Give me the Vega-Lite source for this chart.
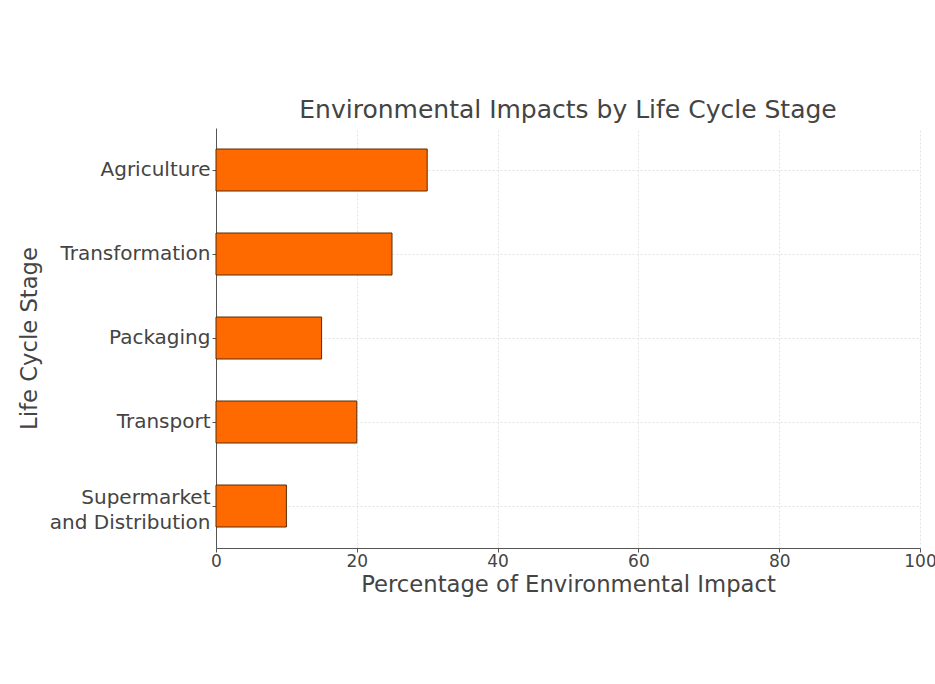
{
  "$schema": "https://vega.github.io/schema/vega-lite/v6.json",
  "autosize": "none",
  "width": 704,
  "height": 420,
  "padding": {"left": 216, "top": 128, "right": 15, "bottom": 136},
  "background": "white",
  "title": {
    "text": "Environmental Impacts by Life Cycle Stage",
    "font": "DejaVu Sans",
    "fontSize": 25,
    "fontWeight": "normal",
    "color": "#444444",
    "anchor": "middle",
    "offset": 5
  },
  "config": {
    "view": {"stroke": null},
    "axis": {
      "labelFont": "DejaVu Sans",
      "titleFont": "DejaVu Sans",
      "labelFontSize": 19,
      "titleFontSize": 22.7,
      "titleFontWeight": "normal",
      "labelColor": "#444444",
      "titleColor": "#444444",
      "domainColor": "#555555",
      "tickColor": "#555555",
      "gridColor": "#e3e3e3",
      "gridDash": [2, 2],
      "tickSize": 4
    }
  },
  "data": {
    "values": [
      {"stage": "Agriculture", "impact": 30},
      {"stage": "Transformation", "impact": 25},
      {"stage": "Packaging", "impact": 15},
      {"stage": "Transport", "impact": 20},
      {"stage": "Supermarket|and Distribution", "impact": 10}
    ]
  },
  "mark": {"type": "bar", "fill": "#ff6a00", "stroke": "#5a2a00", "strokeWidth": 1},
  "encoding": {
    "y": {
      "field": "stage",
      "type": "nominal",
      "sort": null,
      "scale": {"paddingInner": 0.5, "paddingOuter": 0.25},
      "axis": {
        "title": "Life Cycle Stage",
        "labelExpr": "split(datum.value, '|')",
        "labelFontSize": 20,
        "labelLineHeight": 25,
        "labelOffset": {"condition": {"test": "indexof(datum.value, '|') >= 0", "value": -8}, "value": 0},
        "bandPosition": 0.5,
        "grid": true,
        "titlePadding": 8,
        "labelPadding": 2
      }
    },
    "x": {
      "field": "impact",
      "type": "quantitative",
      "scale": {"domain": [0, 100], "nice": false},
      "axis": {
        "title": "Percentage of Environmental Impact",
        "values": [0, 20, 40, 60, 80, 100],
        "labelFontSize": 17,
        "labelFlush": false,
        "grid": true,
        "titlePadding": 4,
        "labelPadding": 1
      }
    }
  }
}
